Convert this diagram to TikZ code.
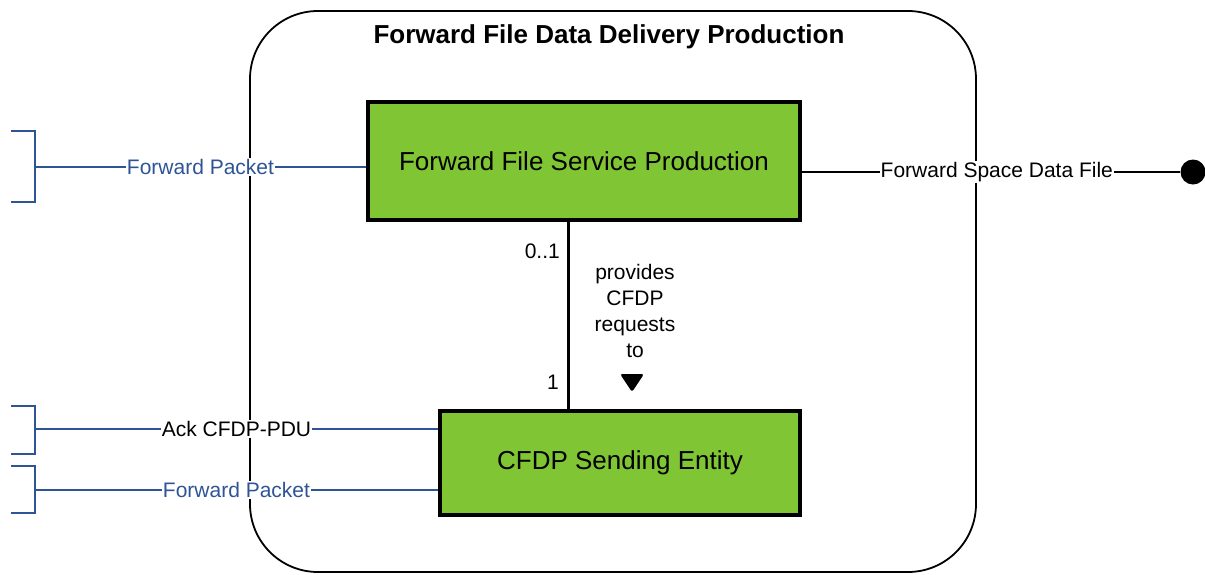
\documentclass[tikz,border=0pt]{standalone}
\usepackage{fontspec}
\setmainfont{Liberation Sans}
\usetikzlibrary{calc}
\definecolor{boxgreen}{RGB}{128,197,52}
\definecolor{linkblue}{RGB}{47,84,150}
\tikzset{
  frame/.style={draw=black, line width=1.8pt, rounded corners=68pt},
  greenbox/.style={draw=black, fill=boxgreen, line width=4pt, inner sep=0pt, font=\fontsize{26}{30}\selectfont},
  lbl/.style={fill=white, inner sep=1pt, font=\fontsize{21}{26}\selectfont},
  bluelink/.style={draw=linkblue, line width=1.6pt},
  blacklink/.style={draw=black, line width=1.6pt},
  assoc/.style={draw=black, line width=3pt},
  smalltxt/.style={font=\fontsize{21}{26}\selectfont, inner sep=0pt}
}
\begin{document}
\begin{tikzpicture}[x=1pt,y=-1pt]
\useasboundingbox (0,0) rectangle (1205,574);
% outer frame
\draw[frame] (250,11) rectangle (976,572);
\node[font=\bfseries\fontsize{26}{30}\selectfont, inner sep=0pt] (title) at (609,37) {Forward File Data Delivery Production};
% boxes
\node[greenbox, minimum width=432pt, minimum height=118pt] (fs) at (584,161) {Forward File Service Production};
\node[greenbox, minimum width=360pt, minimum height=104pt] (ce) at (620,463) {CFDP Sending Entity};
% association
\coordinate (vx) at (568,0);
\draw[assoc] (fs.south -| vx) -- (ce.north -| vx);
\node[smalltxt, anchor=east] (m1) at (560,251) {0..1};
\node[smalltxt, anchor=east] (m2) at (559,382) {1};
\node[smalltxt, align=center] (rel) at (635,311) {provides\\CFDP\\requests\\to};
\fill[rounded corners=2.5pt] (620,374) -- (644,374) -- (632,392) -- cycle;
% left brackets
\coordinate (b1) at (35,167);
\coordinate (b2) at (35,429);
\coordinate (b3) at (35,490);
\draw[bluelink] (11,131) -- (35,131) -- (35,202) -- (11,202);
\draw[bluelink] (11,406) -- (35,406) -- (35,454) -- (11,454);
\draw[bluelink] (11,466) -- (35,466) -- (35,513) -- (11,513);
\draw[bluelink] (b1) -- (b1 -| fs.west) node[lbl, text=linkblue, midway] (l1) {Forward Packet};
\draw[bluelink] (b2) -- (b2 -| ce.west) node[lbl, text=black, midway] (l2) {Ack CFDP-PDU};
\draw[bluelink] (b3) -- (b3 -| ce.west) node[lbl, text=linkblue, midway] (l3) {Forward Packet};
% right link
\node[circle, fill=black, minimum size=25pt, inner sep=0pt] (dot) at (1193,172) {};
\coordinate (r1) at (800,172);
\draw[blacklink] (r1 -| fs.east) -- (dot.west) node[lbl, text=black, pos=0.515] (l4) {Forward Space Data File};
\end{tikzpicture}
\end{document}
